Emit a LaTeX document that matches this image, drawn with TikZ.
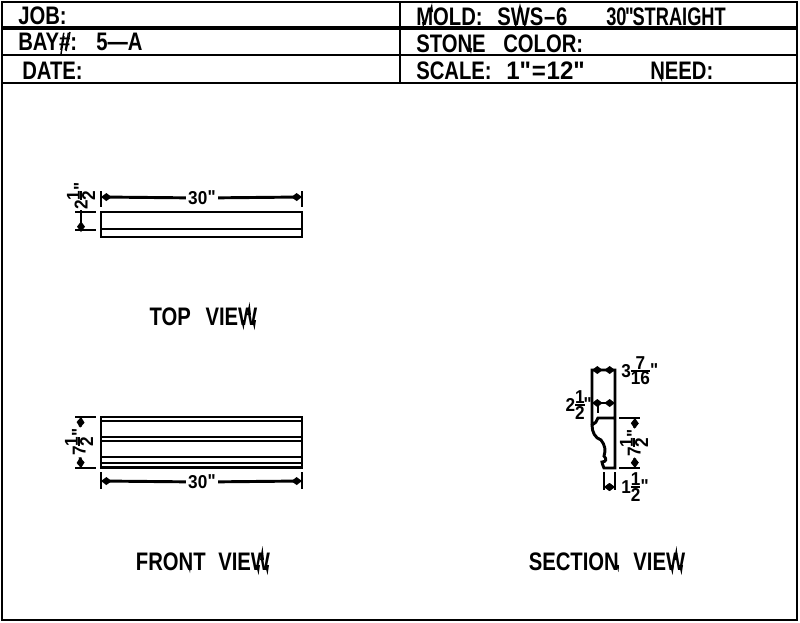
\documentclass[tikz,border=0pt]{standalone}
\usepackage{fontspec}
\usetikzlibrary{arrows.meta}
\newfontfamily\cadfont[FakeStretch=0.80]{Liberation Sans Bold}
\newfontfamily\cadnarrow[FakeStretch=0.72]{Liberation Sans Bold}
\newfontfamily\cadwide[FakeStretch=0.95]{Liberation Sans Bold}
\newfontfamily\caddim[FakeStretch=0.92]{Liberation Sans Bold}
\newcommand\stk[2]{\raisebox{-5.6pt}{\vbox{\offinterlineskip\halign{\hfil##\hfil\cr#1\cr\noalign{\kern.2pt\hrule height 1.2pt\kern.2pt}#2\cr}}}}
\newcommand\qm{\raisebox{0.5pt}{\kern.2pt"}}
\tikzset{
 x=0.75pt,y=-0.75pt,
 frame/.style={line width=2.2pt,black},
 heavy/.style={line width=3pt,black},
 part/.style={line width=2.2pt,black,line join=miter},
 ext/.style={line width=2.2pt,black},
 dimen/.style={line width=2.2pt,black,{Diamond[length=8pt,width=6pt]}-},
 dimboth/.style={line width=2.2pt,black,{Diamond[length=8pt,width=6pt]}-{Diamond[length=8pt,width=6pt]}},
 head/.style={inner sep=0pt,anchor=base west,font=\cadfont\fontsize{19}{20}\selectfont},
 title/.style={inner sep=0pt,anchor=base,font=\cadfont\fontsize{19}{20}\selectfont},
 dimtext/.style={inner sep=1.5pt,font=\caddim\fontsize{14}{14}\selectfont},
 spike/.style={fill=black,draw=none},
 hashbar/.style={line width=1.1pt,black},
}
\begin{document}
\begin{tikzpicture}
\useasboundingbox (0,0) rectangle (800,622);
% frame
\draw[frame] (2,2) rectangle (797,620);
\draw[heavy] (2,28) -- (797,28);
\draw[frame] (2,55) -- (797,55);
\draw[frame] (2,83) -- (797,83);
\draw[frame] (400,2) -- (400,83);
% header
\node[head] (job) at (18,24) {JOB:};
\node[head] (bay) at (18,50) {BAY\#:};
\node[head] (bayv) at (96,50) {5—A};
\node[head] (date) at (22,79) {DATE:};
\node[head] (mold) at (416,25) {MOLD:};
\node[head] (sws) at (497,25) {SWS\kern.5pt–\kern.5pt 6};
\node[head,font=\cadnarrow\fontsize{19}{20}\selectfont] (straight) at (606,25) {30\kern-1pt"\kern-1pt STRAIGHT};
\node[head] (stone) at (416,52) {STONE};
\node[head] (color) at (503,52) {COLOR:};
\node[head] (scale) at (416,79) {SCALE:};
\node[head,font=\cadwide\fontsize{19}{20}\selectfont] (scalev) at (506,79) {1"\kern.6pt=\kern.6pt 12"};
\node[head] (need) at (650,79) {NEED:};
% stroke spikes of the lettering
\fill[spike] (429,12) -- (432,3) -- (433,12) -- cycle;
\fill[spike] (422,22) -- (425,22) -- (423,28) -- cycle;
\fill[spike] (518,12) -- (520,3) -- (522,12) -- cycle;
\fill[spike] (514,22) -- (517,22) -- (516,29) -- cycle;
\fill[spike] (523,22) -- (526,22) -- (525,29) -- cycle;
\fill[spike] (469,48) -- (472,48) -- (471,54) -- cycle;
\fill[spike] (659,75) -- (662,75) -- (662,82) -- cycle;
\draw[hashbar] (64,36) -- (61,54); \draw[hashbar] (70,32) -- (66,51);
% top view
\draw[part] (101,212) rectangle (302,237);
\draw[part] (101,229) -- (302,229);
\coordinate (ta) at (101,197); \coordinate (tb) at (302,197);
\draw[ext] (101,191) -- (101,207); \draw[ext] (302,191) -- (302,207);
\node[dimtext] (t30) at (202,198) {30\qm};
\draw[dimen] (ta) -- (t30); \draw[dimen] (tb) -- (t30);
\draw[ext] (75,212) -- (96,212); \draw[ext] (75,230) -- (96,230);
\coordinate (tc) at (81,212); \coordinate (td) at (81,232);
\node[dimtext,rotate=90,inner sep=0pt] (t2) at (81,196) {2\stk{1}{2}\qm};
\draw[dimen] (td) -- (tc);
\draw[ext] (tc) -- (t2.west);
\node[title] (topv) at (203.5,325) {TOP\ \ \kern2.5pt VIEW};
\fill[spike] (241,320) -- (245,320) -- (243.5,330) -- cycle;
\fill[spike] (252,320) -- (256,320) -- (254.5,330) -- cycle;
\fill[spike] (247,315) -- (249.5,302) -- (251,315) -- cycle;
% front view
\draw[part] (101,417) rectangle (302,467.5);
\foreach \yy in {421,437,441,457,463} \draw[part] (101,\yy) -- (302,\yy);
\coordinate (fa) at (101,481); \coordinate (fb) at (302,481);
\draw[ext] (101,472) -- (101,489); \draw[ext] (302,472) -- (302,489);
\node[dimtext] (f30) at (202,482) {30\qm};
\draw[dimen] (fa) -- (f30); \draw[dimen] (fb) -- (f30);
\draw[ext] (75,417) -- (96,417); \draw[ext] (75,468) -- (96,468);
\coordinate (fc) at (81,417); \coordinate (fd) at (81,468);
\node[dimtext,rotate=90,inner sep=1pt] (f7) at (79,442) {7\stk{1}{2}\qm};
\draw[dimen] (fc) -- (f7); \draw[dimen] (fd) -- (f7);
\node[title] (frontv) at (203,570) {FRONT\ \ \kern1pt VIEW};
\fill[spike] (188,565) -- (191,565) -- (190,573) -- cycle;
\fill[spike] (256,565) -- (260,565) -- (258.5,575) -- cycle;
\fill[spike] (265,565) -- (269,565) -- (267.5,575) -- cycle;
\fill[spike] (260,560) -- (262.5,546) -- (264,560) -- cycle;
% section view
\draw[part] (592,425) -- (592,370) -- (615,370) -- (615,468) -- (604,468)
  .. controls (603,465) and (602,464) .. (602,462)
  .. controls (606,462) and (607,459) .. (604,456)
  .. controls (606,450) and (605,445) .. (601,440)
  .. controls (595,438) and (592,432) .. (592,425)
  .. controls (595,424) and (597,421) .. (598,418) -- (615,418);
\coordinate (sa) at (592,370); \coordinate (sb) at (615,370);
\draw[dimboth] (sa) -- (sb);
\node[dimtext,anchor=west,inner sep=0pt] (s3) at (621,371) {3\stk{7}{16}\qm};
\coordinate (sc) at (592,403); \coordinate (sd) at (615,403);
\draw[dimboth] (sc) -- (sd);
\draw[ext] (598,403) -- (598,413);
\node[dimtext,anchor=east,inner sep=0pt] (s2) at (592,405) {2\stk{1}{2}\kern-1pt\qm};
\draw[ext] (619,418) -- (640,418); \draw[ext] (619,468) -- (640,468);
\coordinate (se) at (635,418); \coordinate (sf) at (635,468);
\node[dimtext,rotate=90,inner sep=1pt] (s7) at (634,443) {7\stk{1}{2}\qm};
\draw[dimen] (se) -- (s7); \draw[dimen] (sf) -- (s7);
\draw[ext] (604,472) -- (604,490); \draw[ext] (615,472) -- (615,490);
\coordinate (sg) at (604,487); \coordinate (sh) at (615,487);
\draw[dimboth] (sg) -- (sh);
\node[dimtext,anchor=west,inner sep=0pt] (s1) at (621,487) {1\stk{1}{2}\qm};
\node[title] (sectv) at (607,570) {SECTION\ \ \kern2.5pt VIEW};
\fill[spike] (616,565) -- (619,565) -- (618.5,572) -- cycle;
\fill[spike] (670,565) -- (674,565) -- (672.5,575) -- cycle;
\fill[spike] (679,565) -- (683,565) -- (681.5,575) -- cycle;
\fill[spike] (674,560) -- (676.5,546) -- (678,560) -- cycle;
\end{tikzpicture}
\end{document}
